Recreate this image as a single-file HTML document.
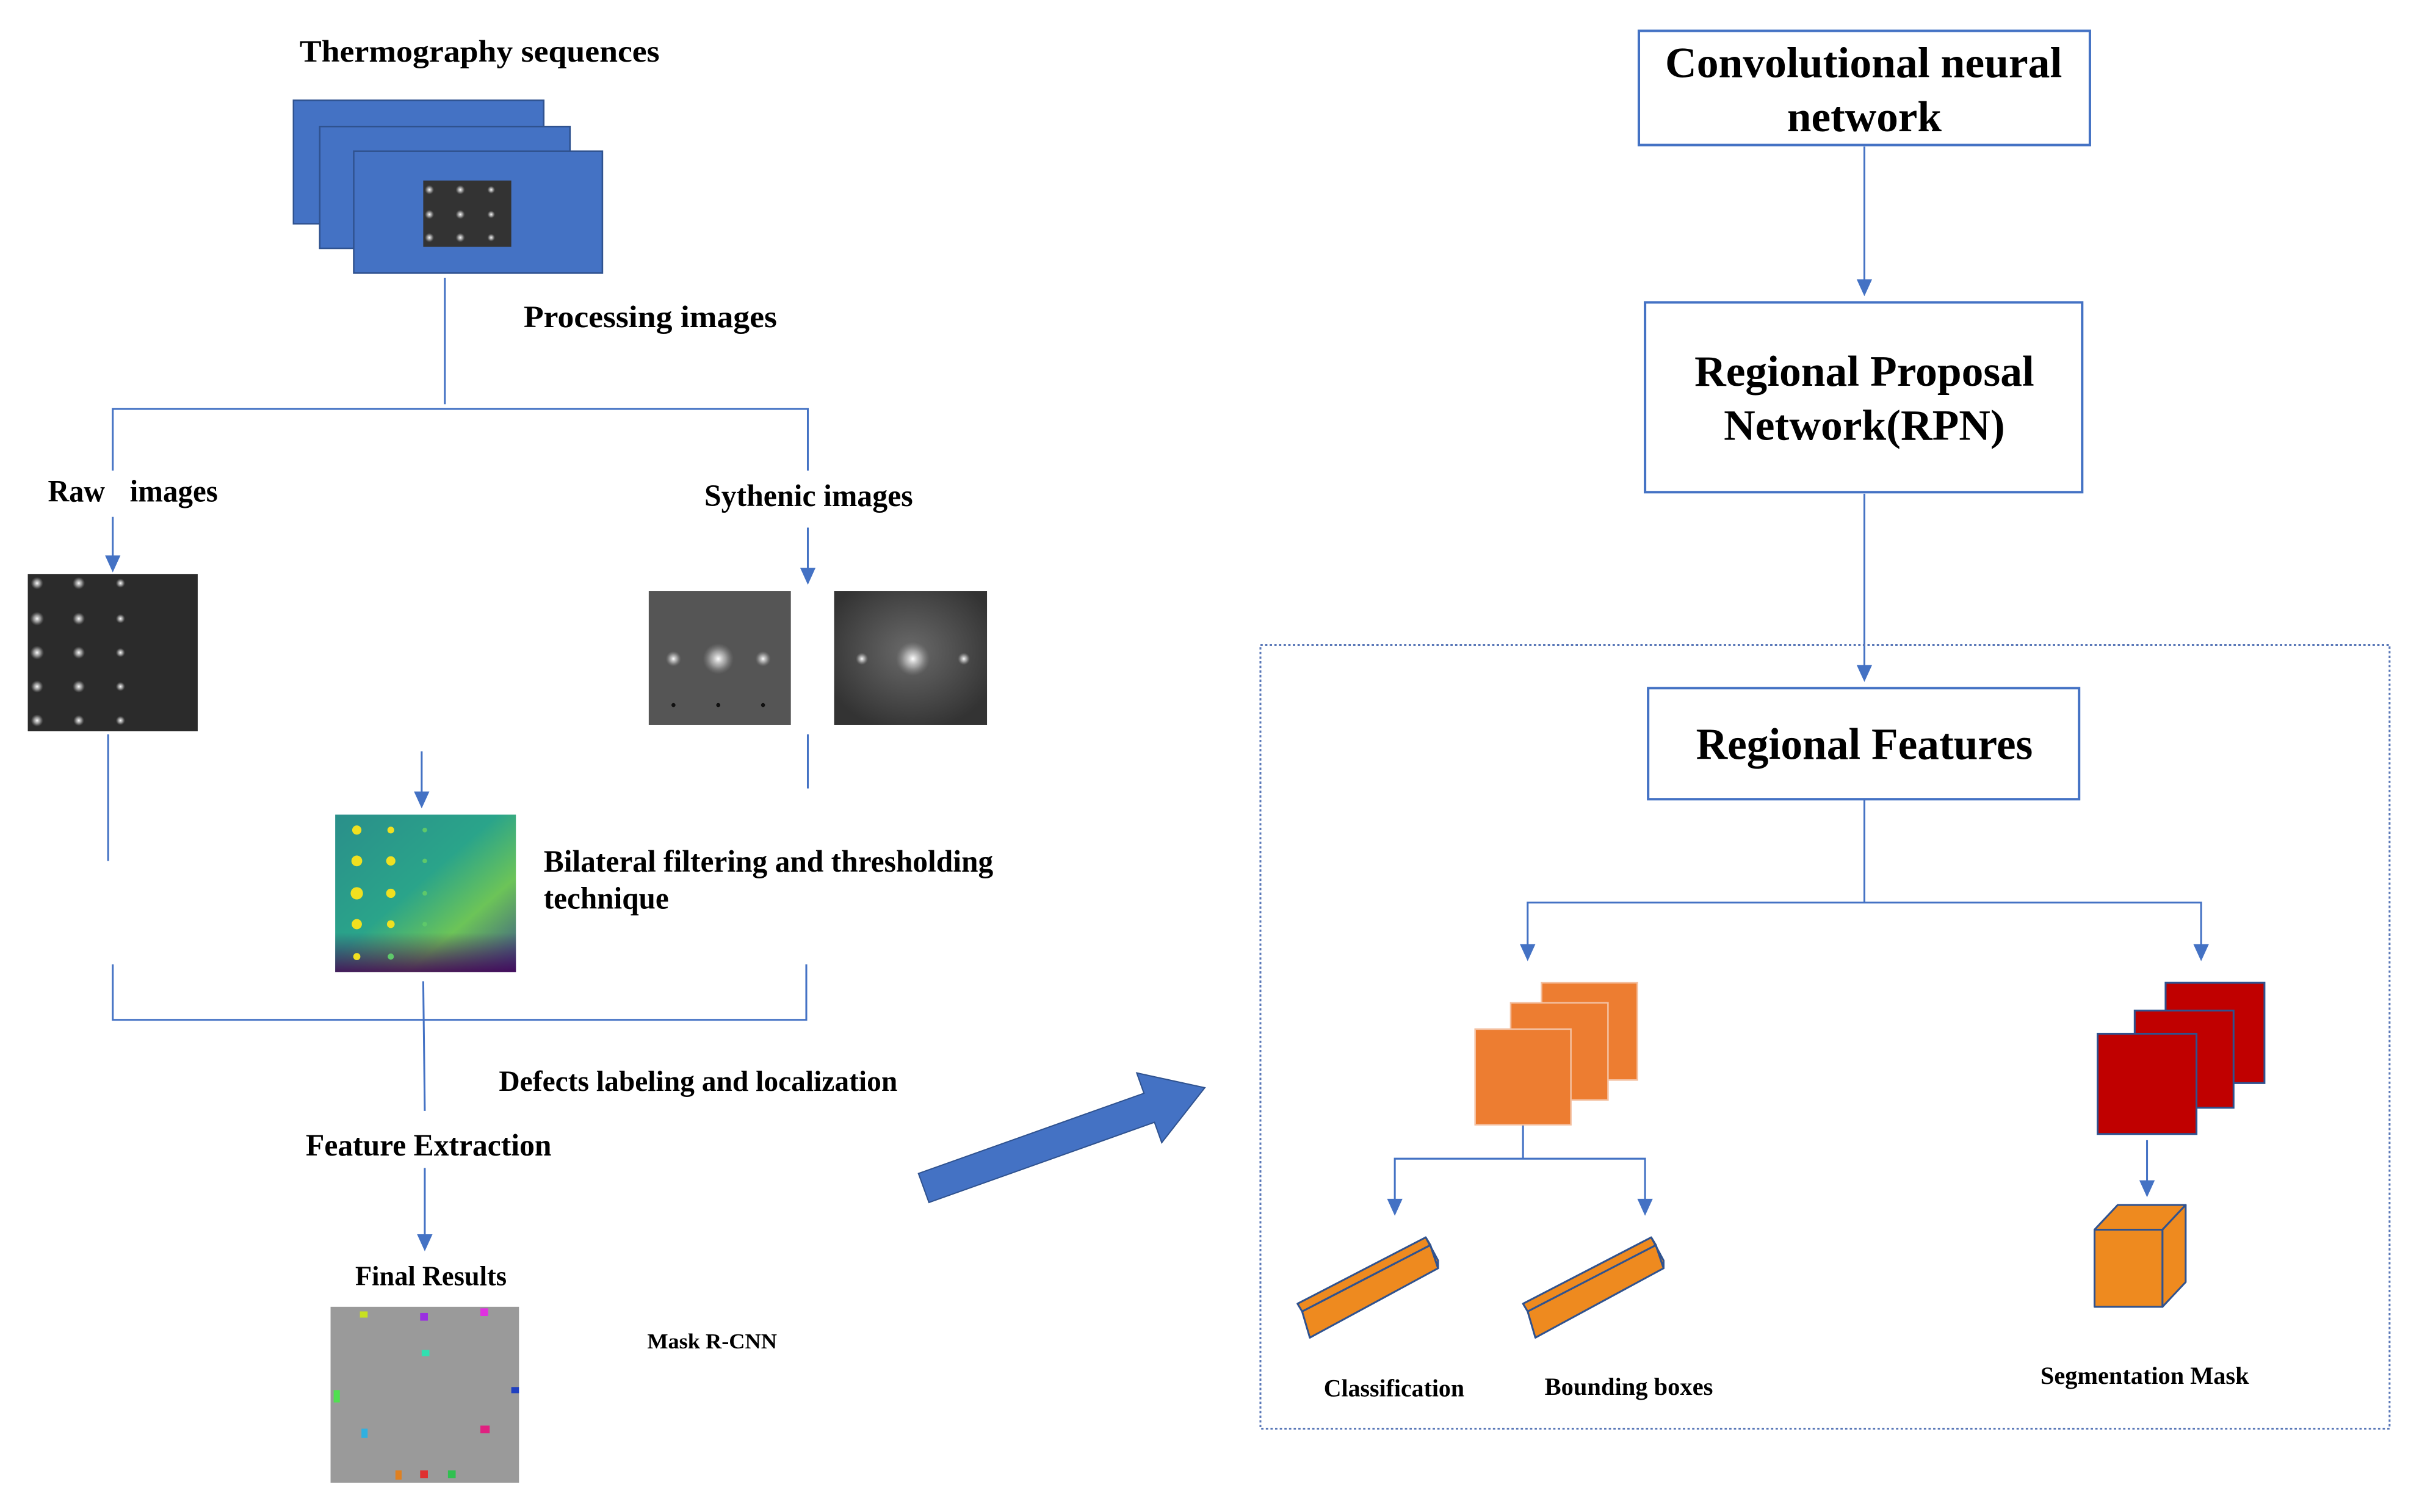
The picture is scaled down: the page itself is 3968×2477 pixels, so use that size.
<!DOCTYPE html>
<html><head><meta charset="utf-8"><style>html,body{margin:0;padding:0;background:#fff}svg{display:block}</style></head>
<body>
<svg width="3968" height="2477" viewBox="0 0 1568 980" preserveAspectRatio="none" xmlns="http://www.w3.org/2000/svg" font-family="Liberation Serif, serif" font-weight="bold">
<defs>
<radialGradient id="dot" cx="50%" cy="50%" r="50%"><stop offset="0" stop-color="#fff"/><stop offset="0.5" stop-color="#bbb" stop-opacity="0.7"/><stop offset="1" stop-color="#888" stop-opacity="0"/></radialGradient>
<radialGradient id="syn2" cx="50%" cy="45%" r="60%"><stop offset="0" stop-color="#6a6a6a"/><stop offset="1" stop-color="#333"/></radialGradient>
<linearGradient id="vir" x1="0" y1="0" x2="1" y2="1"><stop offset="0" stop-color="#2a8f8a"/><stop offset="0.45" stop-color="#2aa48a"/><stop offset="0.7" stop-color="#6cc458"/><stop offset="1" stop-color="#3b528b"/></linearGradient>
<linearGradient id="virb" x1="0" y1="0" x2="0" y2="1"><stop offset="0.75" stop-color="#440154" stop-opacity="0"/><stop offset="1" stop-color="#440154" stop-opacity="0.85"/></linearGradient>
</defs>
<g stroke="#4472C4" stroke-width="1.2" fill="none">
<line x1="288" y1="180" x2="288" y2="262"/>
<polyline points="73,305 73,265 523,265 523,305"/>
<line x1="73" y1="335" x2="73" y2="362"/>
<line x1="523" y1="342" x2="523" y2="370"/>
<line x1="70" y1="476" x2="70" y2="558"/>
<line x1="523" y1="476" x2="523" y2="511"/>
<line x1="273" y1="487" x2="273" y2="515"/>
<polyline points="73,625 73,661 522,661 522,625"/>
<line x1="274" y1="636" x2="275" y2="720"/>
<line x1="275" y1="757" x2="275" y2="802"/>
<line x1="1207" y1="95" x2="1207" y2="183"/>
<line x1="1207" y1="320" x2="1207" y2="433"/>
<line x1="1207" y1="518" x2="1207" y2="585"/>
<polyline points="989,614 989,585 1425,585 1425,614"/>
<line x1="986" y1="729" x2="986" y2="751"/>
<polyline points="903,779 903,751 1065,751 1065,779"/>
<line x1="1390" y1="739" x2="1390" y2="767"/>
<rect x="1061" y="20" width="292" height="74" stroke-width="1.6"/>
<rect x="1065" y="196" width="283" height="123" stroke-width="1.6"/>
<rect x="1067" y="446" width="279" height="72" stroke-width="1.6"/>
<rect x="816" y="418" width="731" height="508" stroke-dasharray="1.5,1.5" stroke="#5a78b8"/>
</g>
<g fill="#4472C4">
<polygon points="68,360 78,360 73,371"/>
<polygon points="518,368 528,368 523,379"/>
<polygon points="268,513 278,513 273,524"/>
<polygon points="270,800 280,800 275,811"/>
<polygon points="1202,181 1212,181 1207,192"/>
<polygon points="1202,431 1212,431 1207,442"/>
<polygon points="984,612 994,612 989,623"/>
<polygon points="1420,612 1430,612 1425,623"/>
<polygon points="898,777 908,777 903,788"/>
<polygon points="1060,777 1070,777 1065,788"/>
<polygon points="1385,765 1395,765 1390,776"/>
</g>
<g fill="#4472C4" stroke="#2F528F" stroke-width="1">
<rect x="190" y="65" width="162" height="80"/>
<rect x="207" y="82" width="162" height="79"/>
<rect x="229" y="98" width="161" height="79"/>
</g>
<rect x="274" y="117" width="57" height="43" fill="#333"/>
<g fill="url(#dot)"><circle cx="278" cy="123" r="3"/><circle cx="298" cy="123" r="3"/><circle cx="318" cy="123" r="2.5"/><circle cx="278" cy="139" r="3"/><circle cx="298" cy="139" r="3"/><circle cx="318" cy="139" r="2.5"/><circle cx="278" cy="154" r="3"/><circle cx="298" cy="154" r="3"/><circle cx="318" cy="154" r="2.5"/></g>
<rect x="18" y="372" width="110" height="102" fill="#2b2b2b"/>
<g fill="url(#dot)"><circle cx="24" cy="378" r="4"/><circle cx="51" cy="378" r="4"/><circle cx="78" cy="378" r="3"/><circle cx="24" cy="401" r="4.5"/><circle cx="51" cy="401" r="4"/><circle cx="78" cy="401" r="3"/><circle cx="24" cy="423" r="4.5"/><circle cx="51" cy="423" r="4"/><circle cx="78" cy="423" r="3"/><circle cx="24" cy="445" r="4"/><circle cx="51" cy="445" r="4"/><circle cx="78" cy="445" r="3"/><circle cx="24" cy="467" r="4"/><circle cx="51" cy="467" r="3.5"/><circle cx="78" cy="467" r="3"/></g>
<rect x="420" y="383" width="92" height="87" fill="#555"/>
<g fill="url(#dot)"><circle cx="465" cy="427" r="10"/><circle cx="436" cy="427" r="5"/><circle cx="494" cy="427" r="5"/></g>
<g fill="#111"><circle cx="436" cy="457" r="1.3"/><circle cx="465" cy="457" r="1.3"/><circle cx="494" cy="457" r="1.3"/></g>
<rect x="540" y="383" width="99" height="87" fill="url(#syn2)"/>
<g fill="url(#dot)"><circle cx="591" cy="427" r="11"/><circle cx="558" cy="427" r="4"/><circle cx="624" cy="427" r="4"/></g>
<rect x="217" y="528" width="117" height="102" fill="url(#vir)"/>
<rect x="217" y="528" width="117" height="102" fill="url(#virb)"/>
<g fill="#f0e020"><circle cx="231" cy="538" r="3"/><circle cx="253" cy="538" r="2.2"/><circle cx="231" cy="558" r="3.5"/><circle cx="253" cy="558" r="3"/><circle cx="231" cy="579" r="4"/><circle cx="253" cy="579" r="3"/><circle cx="231" cy="599" r="3.3"/><circle cx="253" cy="599" r="2.5"/><circle cx="231" cy="620" r="2.3"/></g>
<g fill="#5ec86a"><circle cx="275" cy="538" r="1.5"/><circle cx="275" cy="558" r="1.5"/><circle cx="275" cy="579" r="1.5"/><circle cx="275" cy="599" r="1.5"/><circle cx="253" cy="620" r="2"/></g>
<rect x="214" y="847" width="122" height="114" fill="#9a9a9a"/>
<g><rect x="233" y="850" width="5" height="4" fill="#c8e020"/><rect x="272" y="851" width="5" height="5" fill="#9a30e0"/><rect x="311" y="848" width="5" height="5" fill="#e030e0"/><rect x="273" y="875" width="5" height="4" fill="#30e0b0"/><rect x="216" y="901" width="4" height="8" fill="#50e050"/><rect x="331" y="899" width="5" height="4" fill="#2040c0"/><rect x="234" y="926" width="4" height="6" fill="#30b0e0"/><rect x="311" y="924" width="6" height="5" fill="#e02080"/><rect x="256" y="953" width="4" height="6" fill="#e08020"/><rect x="272" y="953" width="5" height="5" fill="#e03030"/><rect x="290" y="953" width="5" height="5" fill="#30c050"/></g>
<polygon points="594.6,760.6 740.6,708.6 735.9,695.4 780,705 752.1,740.6 747.4,727.4 601.4,779.4" fill="#4472C4" stroke="#2F528F" stroke-width="0.8"/>
<g fill="#ED7D31" stroke="#f4c0a0" stroke-width="1"><rect x="998" y="637" width="62" height="63"/><rect x="978" y="650" width="63" height="63"/><rect x="955" y="667" width="62" height="62"/></g>
<g fill="#C00000" stroke="#2F528F" stroke-width="1.2"><rect x="1402" y="637" width="64" height="65"/><rect x="1382" y="655" width="64" height="63"/><rect x="1358" y="670" width="64" height="65"/></g>
<g fill="#EE8A1F" stroke="#2F528F" stroke-width="1.2" stroke-linejoin="round">
<polygon points="843,850 926,807 931,822 848,867"/><polygon points="840,845 923,802 926,807 843,850"/><polygon points="923,802 931,817 931,822 926,807"/>
<polygon points="989,850 1072,807 1077,822 994,867"/><polygon points="986,845 1069,802 1072,807 989,850"/><polygon points="1069,802 1077,817 1077,822 1072,807"/>
<rect x="1356" y="797" width="44" height="50"/><polygon points="1356,797 1371,781 1415,781 1400,797"/><polygon points="1400,797 1415,781 1415,831 1400,847"/>
</g>
<g fill="#000">
<text x="194" y="40" font-size="20" textLength="233" lengthAdjust="spacingAndGlyphs">Thermography sequences</text>
<text x="339" y="212" font-size="20" textLength="164" lengthAdjust="spacingAndGlyphs">Processing images</text>
<text x="31" y="325" font-size="20" textLength="37" lengthAdjust="spacingAndGlyphs">Raw</text>
<text x="84" y="325" font-size="20" textLength="57" lengthAdjust="spacingAndGlyphs">images</text>
<text x="456" y="328" font-size="20" textLength="135" lengthAdjust="spacingAndGlyphs">Sythenic images</text>
<text x="352" y="565" font-size="20" textLength="291" lengthAdjust="spacingAndGlyphs">Bilateral filtering and thresholding</text>
<text x="352" y="589" font-size="20" textLength="81" lengthAdjust="spacingAndGlyphs">technique</text>
<text x="323" y="707" font-size="19" textLength="258" lengthAdjust="spacingAndGlyphs">Defects labeling and localization</text>
<text x="198" y="749" font-size="20" textLength="159" lengthAdjust="spacingAndGlyphs">Feature Extraction</text>
<text x="230" y="833" font-size="18" textLength="98" lengthAdjust="spacingAndGlyphs">Final Results</text>
<text x="419" y="874" font-size="14" textLength="84" lengthAdjust="spacingAndGlyphs">Mask R-CNN</text>
<text x="1078" y="50" font-size="28" textLength="257" lengthAdjust="spacingAndGlyphs">Convolutional neural</text>
<text x="1157" y="85" font-size="28" textLength="100" lengthAdjust="spacingAndGlyphs">network</text>
<text x="1097" y="250" font-size="28" textLength="220" lengthAdjust="spacingAndGlyphs">Regional Proposal</text>
<text x="1116" y="285" font-size="28" textLength="182" lengthAdjust="spacingAndGlyphs">Network(RPN)</text>
<text x="1098" y="492" font-size="29" textLength="218" lengthAdjust="spacingAndGlyphs">Regional Features</text>
<text x="857" y="905" font-size="16" textLength="91" lengthAdjust="spacingAndGlyphs">Classification</text>
<text x="1000" y="904" font-size="16" textLength="109" lengthAdjust="spacingAndGlyphs">Bounding boxes</text>
<text x="1321" y="897" font-size="16" textLength="135" lengthAdjust="spacingAndGlyphs">Segmentation Mask</text>
</g>
</svg>
</body></html>
